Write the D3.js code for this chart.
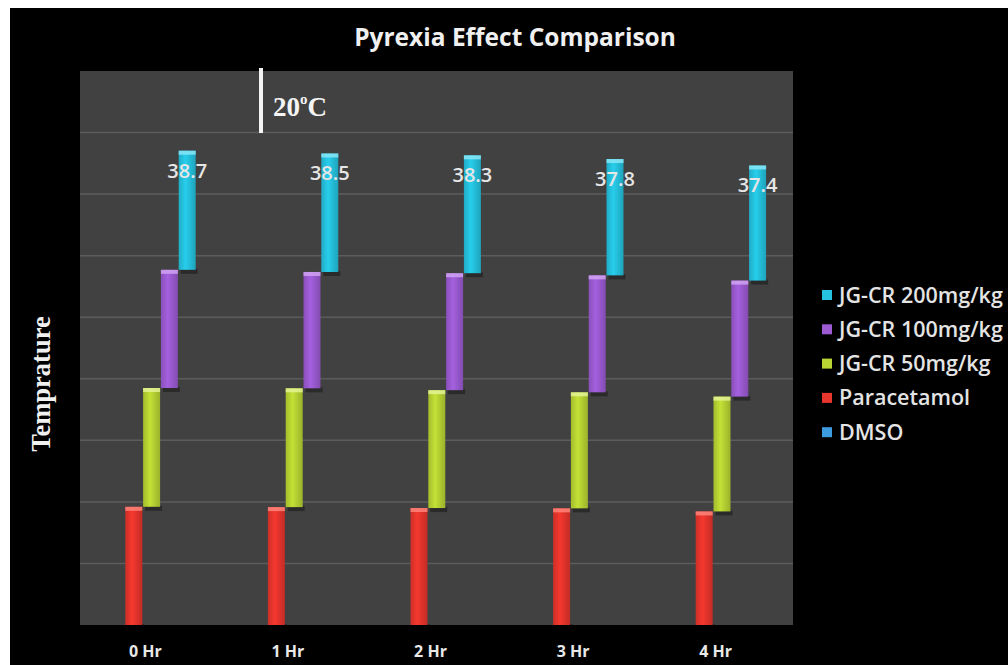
<!DOCTYPE html>
<html>
<head>
<meta charset="utf-8">
<script src="https://cdn.jsdelivr.net/npm/d3@7"></script>
<style>
html,body{margin:0;padding:0;background:#fff;overflow:hidden;}
svg{display:block;}
</style>
</head>
<body>
<svg id="chart" width="1008" height="665"></svg>
<script>
// ---- data ----
const categories = ["0 Hr", "1 Hr", "2 Hr", "3 Hr", "4 Hr"];
const seriesNames = ["Paracetamol", "JG-CR 50mg/kg", "JG-CR 100mg/kg", "JG-CR 200mg/kg", "DMSO"];
const paracetamol = [38.4, 38.3, 38.0, 37.9, 36.9];
const jg50 = [38.6, 38.6, 38.3, 37.7, 37.3];
const jg100 = [38.4, 37.8, 38.0, 38.0, 37.7];
const jg200 = [38.7, 38.5, 38.3, 37.8, 37.4];
const dmso = [0, 0, 0, 0, 0];
const yTicks = [0, 20, 40, 60, 80, 100, 120, 140, 160, 180];
const legendOrder = ["JG-CR 200mg/kg", "JG-CR 100mg/kg", "JG-CR 50mg/kg", "Paracetamol", "DMSO"];

const values = [paracetamol, jg50, jg100, jg200, dmso];
const colors = ["#e8352d", "#b9d533", "#9c5bd3", "#25c3e0", "#3d9be0"];
const capColors = ["#ff8a80", "#e6f59a", "#d3a8f5", "#8fe8f7", "#8cc8f5"];

const svg = d3.select("#chart");
svg.append("rect").attr("x", 10).attr("y", 8).attr("width", 998).attr("height", 657).attr("fill", "#000");

const plot = {left: 80, right: 793, top: 71, bottom: 625};
const x = d3.scaleBand().domain(categories).range([plot.left, plot.right]).padding(0);
const y = d3.scaleLinear().domain([0, 180]).range([plot.bottom, plot.top]);

svg.append("rect").attr("x", plot.left).attr("y", plot.top)
  .attr("width", plot.right - plot.left).attr("height", plot.bottom - plot.top)
  .attr("fill", "#414141");

// gridlines
svg.append("g").selectAll("line").data(yTicks.slice(1, -1)).join("line")
  .attr("x1", plot.left).attr("x2", plot.right)
  .attr("y1", d => y(d)).attr("y2", d => y(d))
  .attr("stroke", "#5c5c5c").attr("stroke-width", 1.5);

// gradients
const defs = svg.append("defs");
colors.forEach((c, i) => {
  const g = defs.append("linearGradient").attr("id", "g" + i).attr("x1", "0").attr("x2", "1").attr("y1", "0").attr("y2", "0");
  g.append("stop").attr("offset", "0%").attr("stop-color", d3.color(c).darker(0.35));
  g.append("stop").attr("offset", "40%").attr("stop-color", d3.color(c).brighter(0.15));
  g.append("stop").attr("offset", "100%").attr("stop-color", d3.color(c).darker(0.5));
});

// stacked bars
const barW = 17, step = 17.8, offset0 = -26;
const bars = svg.append("g");
categories.forEach((cat, ci) => {
  let cum = 0;
  const cx = x(cat) + x.bandwidth() / 2;
  values.forEach((arr, si) => {
    const v = arr[ci];
    const y0 = y(cum), y1 = y(cum + v);
    cum += v;
    if (v <= 0) return;
    const bx = cx + offset0 + si * step;
    bars.append("rect").attr("x", bx + 2).attr("y", y0 - 1).attr("width", barW).attr("height", 5)
      .attr("fill", "#000").attr("opacity", 0.35);
    bars.append("rect").attr("x", bx).attr("y", y1).attr("width", barW).attr("height", y0 - y1)
      .attr("fill", `url(#g${si})`);
    bars.append("rect").attr("x", bx).attr("y", y1).attr("width", barW).attr("height", 4)
      .attr("fill", capColors[si]).attr("opacity", 0.8);
    if (si === 3) {
      svg.append("text").attr("x", bx + barW / 2).attr("y", y1 + 27)
        .attr("text-anchor", "middle").attr("fill", "#e6e6e6")
        .attr("font-family", "Open Sans, sans-serif").attr("font-weight", 600).attr("font-size", 20)
        .text(arr[ci].toFixed(1));
    }
  });
});

// x labels
svg.append("g").selectAll("text").data(categories).join("text")
  .attr("x", d => x(d) + x.bandwidth() / 2 - 6).attr("y", 657)
  .attr("text-anchor", "middle").attr("fill", "#e8e8e8")
  .attr("font-family", "Open Sans, sans-serif").attr("font-weight", 700).attr("font-size", 16)
  .text(d => d);

// title
svg.append("text").attr("x", 515).attr("y", 46).attr("text-anchor", "middle")
  .attr("fill", "#f0f0f0").attr("font-family", "Open Sans, sans-serif").attr("font-weight", 700)
  .attr("font-size", 24.5).text("Pyrexia Effect Comparison");

// y label
svg.append("text").attr("transform", "translate(50,384) rotate(-90)").attr("text-anchor", "middle")
  .attr("fill", "#f0f0f0").attr("font-family", "Liberation Serif, serif").attr("font-weight", 700)
  .attr("font-size", 26.5).text("Temprature");

// 20°C annotation
svg.append("line").attr("x1", 261).attr("x2", 261).attr("y1", 68).attr("y2", 133)
  .attr("stroke", "#f4f4f4").attr("stroke-width", 4);
const ann = svg.append("text").attr("x", 273).attr("y", 116).attr("fill", "#f4f4f4")
  .attr("font-family", "Liberation Serif, serif").attr("font-weight", 700).attr("font-size", 27);
ann.append("tspan").text("20");
ann.append("tspan").attr("font-size", 15).attr("dy", -12).text("o");
ann.append("tspan").attr("dy", 12).text("C");

// legend
const lg = svg.append("g");
legendOrder.forEach((name, i) => {
  const si = seriesNames.indexOf(name);
  const ly = 295 + i * 34.3;
  lg.append("rect").attr("x", 822).attr("y", ly - 5).attr("width", 10).attr("height", 10)
    .attr("fill", colors[si]);
  lg.append("text").attr("x", 839).attr("y", ly + 7.5).attr("fill", "#e4e4e4")
    .attr("font-family", "Open Sans, sans-serif").attr("font-weight", 600).attr("font-size", 21.5)
    .text(name);
});
</script>
</body>
</html>
